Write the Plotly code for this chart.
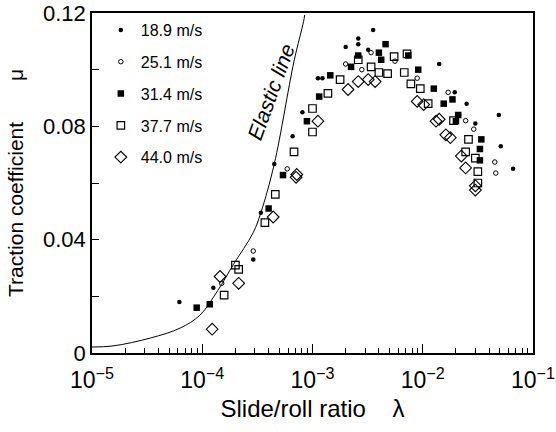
import plotly.graph_objects as go

# Slide/roll ratio (lambda) and traction coefficient (mu) for each rolling speed
lam_189 = [6.2e-5, 1.26e-4, 2.9e-4, 3.4e-4, 4.5e-4, 6.6e-4, 8.1e-4, 1.12e-3, 1.23e-3,
           2.0e-3, 2.6e-3, 2.6e-3, 3.55e-3, 3.2e-3, 1.41e-2, 1.95e-2, 2.5e-2, 4.9e-2,
           5.1e-2, 6.6e-2, 3.0e-2]
mu_189 = [0.018, 0.023, 0.033, 0.0495, 0.0667, 0.0765, 0.085, 0.097, 0.097,
          0.108, 0.111, 0.109, 0.114, 0.107, 0.102, 0.092, 0.088, 0.084,
          0.073, 0.065, 0.081]

lam_251 = [1.5e-4, 2.9e-4, 5.9e-4, 2.0e-3, 3.4e-3, 2.8e-3, 5.6e-3, 8.9e-3, 1.7e-2,
           2.9e-2, 2.45e-2, 4.5e-2, 4.6e-2]
mu_251 = [0.0246, 0.036, 0.065, 0.102, 0.106, 0.100, 0.103, 0.097, 0.092,
          0.079, 0.082, 0.0674, 0.0635]

lam_314 = [8.9e-5, 1.17e-4, 4.0e-4, 5.4e-4, 8.9e-4, 1.15e-3, 1.45e-3, 2.24e-3, 2.6e-3,
           4.0e-3, 4.6e-3, 4.2e-3, 7.4e-3, 9.1e-3, 1.26e-2, 1.55e-2, 1.86e-2, 2.1e-2,
           2.0e-2, 3.4e-2, 3.3e-2, 3.3e-2]
mu_314 = [0.016, 0.0172, 0.051, 0.0628, 0.0818, 0.0905, 0.098, 0.101, 0.105,
          0.106, 0.109, 0.1035, 0.105, 0.100, 0.0933, 0.088, 0.0895, 0.084,
          0.0818, 0.0754, 0.072, 0.068]

lam_377 = [1.58e-4, 2.0e-4, 2.14e-4, 3.7e-4, 4.6e-4, 6.8e-4, 1.0e-3, 1.0e-3, 1.38e-3,
           1.78e-3, 2.6e-3, 3.4e-3, 4.0e-3, 4.8e-3, 5.5e-3, 7.2e-3, 6.8e-3, 7.8e-3,
           9.5e-3, 1.12e-2, 1.9e-2, 2.6e-2, 2.45e-2, 3.0e-2, 3.16e-2, 3.16e-2]
mu_377 = [0.0204, 0.031, 0.0295, 0.046, 0.056, 0.071, 0.0863, 0.078, 0.0916,
          0.0965, 0.1035, 0.101, 0.099, 0.0986, 0.1046, 0.1056, 0.099, 0.095,
          0.0933, 0.088, 0.082, 0.0754, 0.071, 0.0688, 0.064, 0.060]

lam_440 = [1.23e-4, 1.45e-4, 2.14e-4, 4.4e-4, 7.1e-4, 7.2e-4, 1.12e-3, 2.1e-3, 2.6e-3,
           3.7e-3, 3.2e-3, 8.9e-3, 1.02e-2, 1.32e-2, 1.41e-2, 1.62e-2, 1.78e-2,
           2.24e-2, 2.45e-2, 3.0e-2, 3.0e-2]
mu_440 = [0.0084, 0.027, 0.0246, 0.048, 0.062, 0.063, 0.0818, 0.093, 0.0958,
          0.0958, 0.0965, 0.0888, 0.0877, 0.0818, 0.0825, 0.077, 0.076,
          0.0695, 0.0653, 0.059, 0.0575]

# Elastic line
lam_elastic = [1.0e-5, 1.55e-5, 3.4e-5, 6.3e-5, 9.5e-5, 1.38e-4, 1.9e-4, 2.9e-4,
               3.4e-4, 4.5e-4, 6.8e-4, 8.3e-4, 8.5e-4]
mu_elastic = [0.0021, 0.0025, 0.0053, 0.0088, 0.0133, 0.022, 0.031, 0.0425,
              0.0495, 0.0667, 0.103, 0.117, 0.1193]

x_tickvals = [1e-5, 1e-4, 1e-3, 1e-2, 1e-1]
x_ticktext = ["10<sup>−5</sup>", "10<sup>−4</sup>", "10<sup>−3</sup>",
              "10<sup>−2</sup>", "10<sup>−1</sup>"]
x_minorvals = [m * d for d in [1e-5, 1e-4, 1e-3, 1e-2] for m in range(2, 10)]
y_tickvals = [0, 0.04, 0.08, 0.12]
y_ticktext = ["0", "0.04", "0.08", "0.12"]
y_minorvals = [0.02, 0.06, 0.10]

FONT = "Liberation Sans, Arial, sans-serif"

series = [
    ("18.9 m/s", lam_189, mu_189, dict(symbol="circle", size=4.5, color="black")),
    ("25.1 m/s", lam_251, mu_251, dict(symbol="circle-open", size=4.5, color="black",
                                        line=dict(width=1))),
    ("31.4 m/s", lam_314, mu_314, dict(symbol="square", size=6.5, color="black")),
    ("37.7 m/s", lam_377, mu_377, dict(symbol="square-open", size=7.5, color="black",
                                        line=dict(width=1.2))),
    ("44.0 m/s", lam_440, mu_440, dict(symbol="diamond-open", size=9, color="black",
                                        line=dict(width=1.1))),
]

fig = go.Figure()

fig.add_trace(go.Scatter(x=lam_elastic, y=mu_elastic, mode="lines",
                         line=dict(color="black", width=1, shape="spline"),
                         showlegend=False, hoverinfo="skip"))

for i, (name, xs, ys, mk) in enumerate(series):
    fig.add_trace(go.Scatter(x=xs, y=ys, mode="markers", name=name,
                             marker=mk, legendgroup=f"g{i}"))

fig.add_annotation(x=-3.38, y=0.092, xref="x", yref="y", text="<i>Elastic line</i>",
                   showarrow=False, textangle=-70,
                   font=dict(family=FONT, size=21, color="black"))

fig.update_layout(
    width=556, height=432,
    margin=dict(l=92, r=23, t=13, b=79),
    paper_bgcolor="white", plot_bgcolor="white",
    font=dict(family=FONT, color="black"),
    showlegend=True,
    legend=dict(x=0.02, y=1.0, xanchor="left", yanchor="top",
                bgcolor="rgba(0,0,0,0)", font=dict(family=FONT, size=16),
                tracegroupgap=8, itemsizing="trace"),
    xaxis=dict(type="log", range=[-5, -0.9999], tickmode="array", tickvals=x_tickvals,
               ticktext=x_ticktext, automargin=False, ticklabelstandoff=6,
               showgrid=False, zeroline=False,
               showline=True, linecolor="black", linewidth=1.5, mirror=True,
               ticks="inside", ticklen=9, tickwidth=1.2, tickcolor="black",
               tickfont=dict(family=FONT, size=23),
               minor=dict(tickmode="array", tickvals=x_minorvals, ticks="inside",
                          ticklen=5, tickwidth=1, tickcolor="black", showgrid=False),
               title=dict(text="Slide/roll ratio&nbsp;&nbsp;&nbsp;&nbsp;λ",
                          font=dict(family=FONT, size=24), standoff=8)),
    yaxis=dict(range=[0, 0.12], tickmode="array", tickvals=y_tickvals,
               ticktext=y_ticktext, showgrid=False, zeroline=False, automargin=False,
               showline=True, linecolor="black", linewidth=1.5, mirror=True,
               ticks="inside", ticklen=7, tickwidth=1.2, tickcolor="black",
               tickfont=dict(family=FONT, size=22),
               minor=dict(tickmode="array", tickvals=y_minorvals,
                          ticks="inside", ticklen=7, tickwidth=1.2,
                          tickcolor="black", showgrid=False),
               title=dict(text="Traction coefficient&nbsp;&nbsp;&nbsp;&nbsp;&nbsp;&nbsp;&nbsp;μ",
                          font=dict(family=FONT, size=21), standoff=14)),
)

fig.write_html("out.html")
